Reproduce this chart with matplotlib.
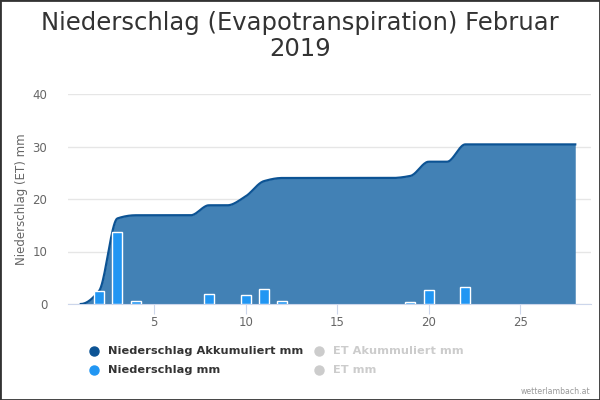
import numpy as np
import matplotlib
matplotlib.use("Agg")
import matplotlib.pyplot as plt
from matplotlib.lines import Line2D

# Tage im Februar 2019
tage = list(range(1, 29))
# Niederschlag Akkumuliert mm
akkumuliert = [0.0, 2.5, 16.3, 16.9, 16.9, 16.9, 16.9, 18.8, 18.8, 20.5,
               23.4, 24.0, 24.0, 24.0, 24.0, 24.0, 24.0, 24.0, 24.4, 27.1,
               27.1, 30.4, 30.4, 30.4, 30.4, 30.4, 30.4, 30.4]
# Niederschlag mm (Tage mit Regen)
regen_tage = [2, 3, 4, 8, 10, 11, 12, 19, 20, 22]
regen_mm = [2.5, 13.8, 0.6, 1.9, 1.7, 2.9, 0.6, 0.4, 2.7, 3.3]

y_ticks = [0, 10, 20, 30, 40]
x_ticks = [5, 10, 15, 20, 25]


def spline(x, y, n=20):
    # monotone kubische Interpolation (wie Highcharts spline ungefaehr)
    x = np.asarray(x, float)
    y = np.asarray(y, float)
    h = np.diff(x)
    d = np.diff(y) / h
    m = np.zeros_like(y)
    for i in range(1, len(y) - 1):
        if d[i - 1] * d[i] > 0:
            m[i] = 2.0 / (1.0 / d[i - 1] + 1.0 / d[i])
    m[0] = 0
    m[-1] = 0
    xs, ys = [], []
    for i in range(len(x) - 1):
        t = np.linspace(0, 1, n, endpoint=False)
        h00 = 2 * t**3 - 3 * t**2 + 1
        h10 = t**3 - 2 * t**2 + t
        h01 = -2 * t**3 + 3 * t**2
        h11 = t**3 - t**2
        xs.extend(x[i] + t * h[i])
        ys.extend(h00 * y[i] + h10 * h[i] * m[i] + h01 * y[i + 1] + h11 * h[i] * m[i + 1])
    xs.append(x[-1])
    ys.append(y[-1])
    return np.array(xs), np.array(ys)


fig = plt.figure(figsize=(6, 4), dpi=100)
ax = fig.add_axes([68 / 600, 1 - 304 / 400, 523 / 600, 210 / 400])

sx, sy = spline(tage, akkumuliert)
ax.fill_between(sx, 0, sy, color="#4281b5", lw=0, zorder=2)
ax.plot(sx, sy, color="#0c5394", lw=1.6, zorder=3)
ax.bar(regen_tage, regen_mm, width=0.55, color="#2196f3", edgecolor="white",
       linewidth=1, zorder=4)

ax.set_xlim(0.3, 28.86)
ax.set_ylim(0, 40)
ax.set_yticks(y_ticks)
ax.set_xticks(x_ticks)
ax.grid(axis="y", color="#e6e6e6", lw=1, zorder=0)
ax.set_axisbelow(True)
for s in ["top", "right", "left"]:
    ax.spines[s].set_visible(False)
ax.spines["bottom"].set_color("#ccd6eb")
ax.tick_params(axis="y", length=0, pad=15, labelsize=8.5, labelcolor="#666666")
ax.tick_params(axis="x", length=7, color="#ccd6eb", labelsize=8.5,
               labelcolor="#666666", pad=2)
ax.set_ylabel("Niederschlag (ET) mm", fontsize=8.5, color="#666666", labelpad=3)

fig.text(0.5, 1 - 36 / 400, "Niederschlag (Evapotranspiration) Februar\n2019",
         ha="center", va="center", fontsize=17.5, color="#333333", linespacing=1.15)

# Legende
items = [
    (94, 351, "#0c5394", "Niederschlag Akkumuliert mm", "#333333"),
    (94, 370, "#2196f3", "Niederschlag mm", "#333333"),
    (319, 351, "#cccccc", "ET Akummuliert mm", "#cccccc"),
    (319, 370, "#cccccc", "ET mm", "#cccccc"),
]
for px, py, mc, label, tc in items:
    fig.add_artist(Line2D([px / 600], [1 - py / 400], marker="o", markersize=6.5,
                          color=mc, transform=fig.transFigure))
    fig.text((px + 14) / 600, 1 - py / 400, label, ha="left", va="center",
             fontsize=8.2, fontweight="bold", color=tc)

fig.text(590 / 600, 1 - 392 / 400, "wetterlambach.at", ha="right", va="center",
         fontsize=5.6, color="#999999")

# Rahmen
fig.add_artist(plt.Rectangle((0, 0), 1, 1, fill=False, edgecolor="#333333",
                             lw=2, transform=fig.transFigure))

fig.savefig("out.png", dpi=100)
